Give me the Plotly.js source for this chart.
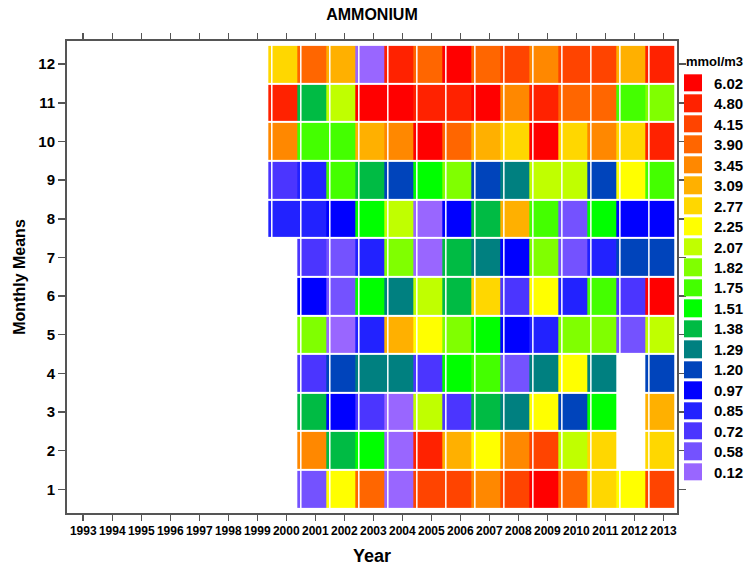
<!DOCTYPE html>
<html>
<head>
<meta charset="utf-8">
<script src="https://cdn.plot.ly/plotly-3.0.1.min.js"></script>
<style>html,body{margin:0;padding:0;background:#fff;}#chart{width:756px;height:567px;}</style>
</head>
<body>
<div id="chart"></div>
<script>
// ---- data ----
const years = [1993,1994,1995,1996,1997,1998,1999,2000,2001,2002,2003,2004,2005,2006,2007,2008,2009,2010,2011,2012,2013];
const months = [1,2,3,4,5,6,7,8,9,10,11,12];
const levels = [0.12,0.58,0.72,0.85,0.97,1.20,1.29,1.38,1.51,1.75,1.82,2.07,2.25,2.77,3.09,3.45,3.90,4.15,4.80,6.02];
const levelColors = ['#9966FF','#7452FF','#4B35FF','#2222FF','#0000FF','#0044BB','#008080','#00BB44','#00FF00','#44FF00','#80FF00','#C0FF00','#FFFF00','#FFD700','#FFB000','#FF8800','#FF6600','#FF4400','#FF2200','#FF0000'];
// monthly means (Jan..Dec) per year, mmol/m3
const y2000 = [null,null,null,null,null,null,null,0.85,0.72,3.45,4.80,2.77];
const y2001 = [0.58,3.45,1.38,0.72,1.82,0.97,0.72,0.85,0.85,1.75,1.38,3.90];
const y2002 = [2.25,1.38,0.97,1.20,0.12,0.58,0.58,0.97,1.75,1.75,2.07,3.09];
const y2003 = [3.90,1.51,0.72,1.29,0.85,1.51,0.85,1.51,1.38,3.09,6.02,0.12];
const y2004 = [0.12,0.12,0.12,1.29,3.09,1.29,1.82,2.07,1.20,3.45,6.02,4.80];
const y2005 = [4.15,4.80,2.07,0.72,2.25,2.07,0.12,0.12,1.51,6.02,4.80,3.90];
const y2006 = [4.15,3.09,0.72,1.51,1.82,1.38,1.38,0.97,1.82,3.90,4.80,6.02];
const y2007 = [3.45,2.25,1.38,1.75,1.51,2.77,1.29,1.38,1.20,3.09,6.02,3.90];
const y2008 = [4.15,3.45,1.29,0.58,0.97,0.72,0.97,3.09,1.29,2.77,3.45,4.15];
const y2009 = [6.02,4.15,2.25,1.29,0.85,2.25,1.82,1.75,2.07,6.02,4.80,3.45];
const y2010 = [3.90,2.07,1.20,2.25,1.82,0.85,0.58,0.58,2.07,2.77,3.90,4.15];
const y2011 = [2.77,2.77,1.51,1.29,1.82,1.75,0.85,1.51,1.20,3.45,3.90,4.15];
const y2012 = [2.25,null,null,null,0.58,0.72,1.20,0.97,2.25,2.77,1.75,3.09];
const y2013 = [4.15,2.77,3.09,1.20,2.07,6.02,1.20,0.97,1.75,4.80,1.82,4.80];

const yearData = {2000:y2000,2001:y2001,2002:y2002,2003:y2003,2004:y2004,2005:y2005,2006:y2006,
  2007:y2007,2008:y2008,2009:y2009,2010:y2010,2011:y2011,2012:y2012,2013:y2013};

// ---- styling constants ----
const CELL_SHIFT = -0.12;   // reference draws cells slightly left of the year ticks
const AX = '#555555';
const FONT = 'Liberation Sans, Arial, sans-serif';

function levelIndex(v){
  if (v === null || v === undefined) return null;
  let k = 0;
  for (let i = 0; i < levels.length; i++) if (levels[i] <= v + 1e-9) k = i;
  return k;
}
const n = levels.length;
const colorscale = [];
levelColors.forEach((c,i)=>{ colorscale.push([i/n, c]); colorscale.push([(i+1)/n, c]); });

const z = months.map((m,mi)=> years.map(yr => yearData[yr] ? levelIndex(yearData[yr][mi]) : null));

const main = {
  type:'heatmap', x: years.map(y=>y+CELL_SHIFT), y: months, z: z,
  zmin:-0.5, zmax:n-0.5, colorscale: colorscale, showscale:false,
  ygap:2, xgap:0, hoverinfo:'skip'
};
const legendTrace = {
  type:'heatmap', xaxis:'x2', yaxis:'y2', x:[0], y: levels.map((_,i)=>i),
  z: levels.map((_,i)=>[i]), zmin:-0.5, zmax:n-0.5, colorscale: colorscale,
  showscale:false, ygap:3, hoverinfo:'skip'
};

const shapes = Object.keys(yearData).map(k=>({
  type:'line', xref:'x', yref:'y', x0:Number(k)-0.5, x1:Number(k)-0.5, y0:0.5, y1:12.5,
  line:{color:'#ffffff', width:1.5}, layer:'above'
}));

const layout = {
  width:756, height:567,
  margin:{l:67, r:10, t:41, b:54},
  paper_bgcolor:'#fff', plot_bgcolor:'#fff',
  showlegend:false,
  title:{text:'AMMONIUM', x:0.492, xanchor:'center', y:0.974, yanchor:'middle',
    font:{family:FONT, size:16, weight:'bold', color:'#000'}},
  xaxis:{
    domain:[0, 0.8984], range:[1992.44, 2013.47],
    tickvals: years, ticktext: years.map(String), tickangle:0,
    ticks:'outside', ticklen:6, tickwidth:1.5, tickcolor:AX,
    showline:true, linecolor:AX, linewidth:2, mirror:'ticks',
    showgrid:false, zeroline:false,
    tickfont:{family:FONT, size:12, weight:'bold', color:'#000'},
    title:{text:'Year', font:{family:FONT, size:18, weight:'bold', color:'#000'}, standoff:12}
  },
  yaxis:{
    range:[0.387, 12.6], tickvals: months,
    ticks:'outside', ticklen:7, tickwidth:1.5, tickcolor:AX,
    showline:true, linecolor:AX, linewidth:2, mirror:'ticks',
    showgrid:false, zeroline:false,
    tickfont:{family:FONT, size:15, weight:'bold', color:'#000'},
    title:{text:'Monthly Means', font:{family:FONT, size:16, weight:'bold', color:'#000'}, standoff:9}
  },
  xaxis2:{domain:[0.9087, 0.9352], range:[-0.5,0.5], anchor:'y2', visible:false, fixedrange:true},
  yaxis2:{
    domain:[0.0642, 0.9316], anchor:'x2', range:[-0.5, n-0.5], side:'right',
    tickvals: levels.map((_,i)=>i), ticktext: levels.map(v=>v.toFixed(2)),
    ticks:'', showline:false, showgrid:false, zeroline:false, ticklabelstandoff:11,
    tickfont:{family:FONT, size:15, weight:'bold', color:'#000'}
  },
  annotations:[{
    text:'mmol/m3', xref:'x2 domain', yref:'paper', x:0, y:0.956, xanchor:'left', yanchor:'middle',
    showarrow:false, font:{family:FONT, size:13, weight:'bold', color:'#000'}
  }],
  shapes: shapes
};

Plotly.newPlot('chart', [main, legendTrace], layout, {displayModeBar:false, staticPlot:true});
</script>
</body>
</html>
